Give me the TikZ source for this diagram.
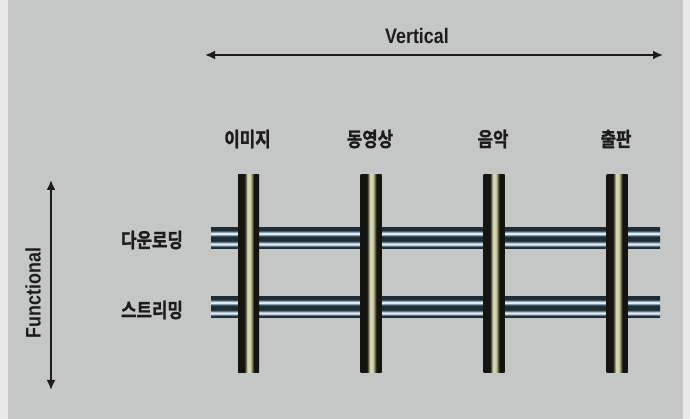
\documentclass[tikz,border=0pt]{standalone}
\usepackage{fontspec}
\usepackage{graphicx}
\setmainfont{Liberation Sans}
\newfontfamily\korfont[FakeStretch=0.84,FakeBold=1.2]{Noto Sans CJK KR Bold}
\usetikzlibrary{arrows.meta}
\newcommand{\narrow}[1]{\scalebox{0.85}[1]{#1}}

\definecolor{bggray}{RGB}{197,199,199}
\definecolor{rodblack}{RGB}{20,20,16}
\definecolor{rodolive}{RGB}{110,112,80}
\definecolor{rodlight}{RGB}{212,212,176}
\definecolor{tubedark}{RGB}{30,44,54}
\definecolor{tubemid}{RGB}{100,126,142}
\definecolor{tubelight}{RGB}{226,236,242}
\definecolor{ink}{RGB}{28,28,28}

\pgfdeclarehorizontalshading{rodshade}{100bp}{color(0bp)=(rodblack); color(25bp)=(rodblack);
	color(40bp)=(rodblack); color(44bp)=(rodolive); color(47bp)=(rodlight); color(54bp)=(rodlight);
	color(59bp)=(rodolive); color(63bp)=(rodblack); color(75bp)=(rodblack); color(100bp)=(rodblack)}
\pgfdeclareverticalshading{tubeshade}{100bp}{color(0bp)=(tubedark); color(25bp)=(tubedark);
	color(34bp)=(tubedark); color(40bp)=(tubemid); color(46bp)=(tubelight); color(51bp)=(tubelight);
	color(58bp)=(tubemid); color(64bp)=(tubedark); color(75bp)=(tubedark); color(100bp)=(tubedark)}

\newcommand{\tubepair}[1]{
	\foreach \k in {0,1} {
		\shade[shading=tubeshade] (211,#1-\k*10.5) rectangle (660,#1-\k*10.5-10.5);
	}
}
\newcommand{\rodcol}[1]{
	\shade[shading=rodshade] (#1-10.5,46) rectangle (#1+10.5,244);
}

\tikzset{
	axisarrow/.style={draw=ink, line width=1.8pt, {Latex[length=10pt,width=9pt]}-{Latex[length=10pt,width=9pt]}},
	axislabel/.style={font=\bfseries\fontsize{21}{25}\selectfont, text=ink, inner sep=0pt},
	korlabel/.style={font=\korfont\fontsize{20}{24}\selectfont, text=ink, inner sep=0pt}
}

\begin{document}
\begin{tikzpicture}[x=1pt,y=1pt]
	\useasboundingbox (0,0) rectangle (690,419);
	\fill[black!9] (0,0) rectangle (690,419);
	\fill[bggray] (8,0) rectangle (683,419);
	
	% axes
	\coordinate (vl) at (205,364);
	\coordinate (vr) at (663,364);
	\draw[axisarrow] (vl) -- (vr);
	\node[axislabel] (vert) at (417,383) {\narrow{Vertical}};
	
	\coordinate (ft) at (51,239);
	\coordinate (fb) at (51,29);
	\draw[axisarrow] (ft) -- (fb);
	\node[axislabel, rotate=90] (func) at (33,126) {\narrow{Functional}};
	
	% rows
	\tubepair{191}
	\tubepair{122}
	\node[korlabel] (down) at (152,179) {다운로딩};
	\node[korlabel] (strm) at (152,109) {스트리밍};
	
	% columns
	\foreach \x/\n/\t in {248.5/img/이미지, 371/vid/동영상, 494/mus/음악, 617/pub/출판} {
		\rodcol{\x}
		\node[korlabel] (\n) at (\x-1,280) {\t};
	}
\end{tikzpicture}
\end{document}
